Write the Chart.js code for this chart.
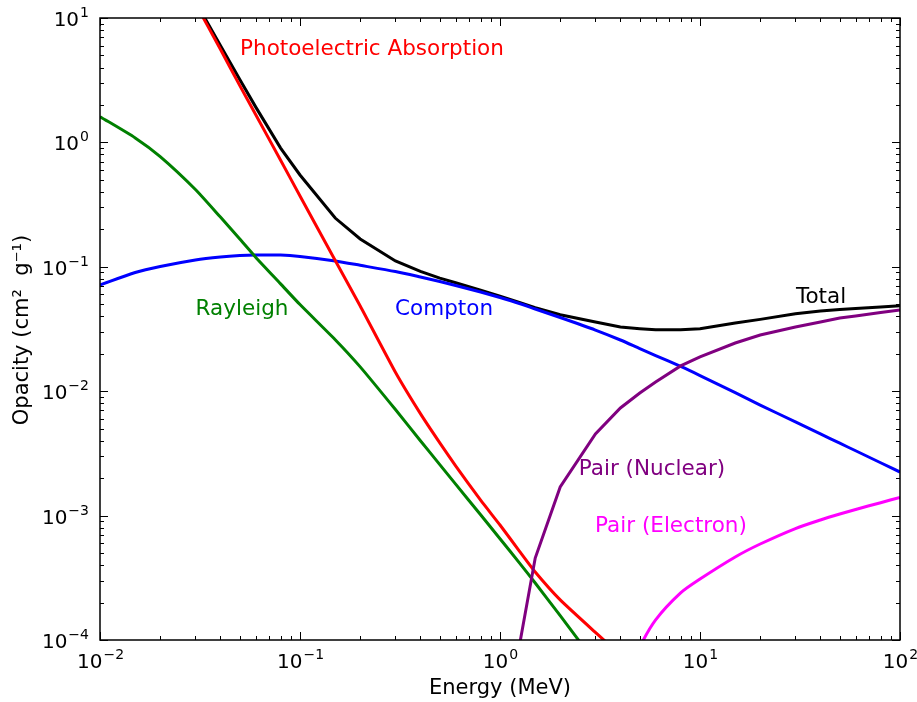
<!DOCTYPE html>
<html>
<head>
<meta charset="utf-8">
<script src="https://cdn.jsdelivr.net/npm/chart.js@4.4.1/dist/chart.umd.min.js"></script>
<style>
  html, body { margin: 0; padding: 0; background: #fff; }
  #wrap { width: 917px; height: 702px; }
</style>
</head>
<body>
<div id="wrap"><canvas id="myChart" width="917" height="702"></canvas></div>
<script>
// Photon energies (MeV)
const energy = [0.01, 0.015, 0.02, 0.03, 0.04, 0.05, 0.06, 0.08, 0.1, 0.15, 0.2, 0.3, 0.4, 0.5, 0.6, 0.8,
                1, 1.25, 1.5, 2, 3, 4, 5, 6, 8, 10, 15, 20, 30, 40, 50, 60, 80, 100];

// Opacities (cm^2 g^-1); null = not plotted
const photoelectric = [327, 100, 42.8, 13.1, 5.6, 2.86, 1.676, 0.718, 0.371, 0.1125, 0.0484, 0.0142, 0.0066,
                       0.00384, 0.00251, 0.00133, 8.4e-4, 5.19e-4, 3.52e-4, 2.1e-4, 1.15e-4, 7.6e-5,
                       null, null, null, null, null, null, null, null, null, null, null, null];
const rayleigh = [1.61, 1.087, 0.769, 0.4185, 0.251, 0.1672, 0.1195, 0.0729, 0.0497, 0.02595, 0.01569, 0.00712,
                  0.0040, 0.00257, 0.00179, 0.001015, 6.52e-4, 4.17e-4, 2.87e-4, 1.57e-4, 6.57e-5,
                  null, null, null, null, null, null, null, null, null, null, null, null, null];
const compton = [0.0714, 0.090, 0.1006, 0.1135, 0.120, 0.1233, 0.1245, 0.1243, 0.121, 0.1113, 0.1028, 0.0916,
                 0.0828, 0.0762, 0.0708, 0.0627, 0.0566, 0.0507, 0.0458, 0.0391, 0.031, 0.0258, 0.0220, 0.01936,
                 0.0158, 0.01336, 0.00975, 0.00774, 0.00566, 0.00454, 0.00382, 0.00332, 0.00266, 0.00224];
const pairNuclear = [null, null, null, null, null, null, null, null, null, null, null, null, null, null, null, null, null,
                     9e-5, 4.56e-4, 0.0017, 0.00453, 0.00733, 0.00968, 0.01186, 0.01596, 0.01884, 0.0244, 0.0283,
                     0.0328, 0.036, 0.0387, 0.0402, 0.043, 0.045];
const pairElectron = [null, null, null, null, null, null, null, null, null, null, null, null, null, null, null, null,
                      null, null, null, null, null,
                      4e-5, 8.8e-5, 1.45e-4, 2.39e-4, 3.09e-4, 4.65e-4, 5.91e-4, 7.87e-4, 9.22e-4, 1.03e-3, 1.12e-3,
                      1.27e-3, 1.40e-3];
const total = [329, 101, 43.7, 13.6, 6.0, 3.2, 1.93, 0.90, 0.547, 0.2466, 0.1673, 0.1114, 0.092, 0.081, 0.0745,
               0.065, 0.058, 0.0518, 0.047, 0.0412, 0.036, 0.0328, 0.0318, 0.0312, 0.0312, 0.0318, 0.0353, 0.0378,
               0.042, 0.0442, 0.0454, 0.0463, 0.0475, 0.0486];

// Axis decades
const xTicks = [0.01, 0.1, 1, 10, 100];
const yTicks = [1e-4, 1e-3, 1e-2, 1e-1, 1, 10];

// In-plot labels: text and where they sit (energy, opacity)
const seriesLabels = [
    { text: 'Photoelectric Absorption', color: '#ff0000', x: 0.229, y: 5.63 },
    { text: 'Rayleigh', color: '#008000', x: 0.0513, y: 0.0458 },
    { text: 'Compton', color: '#0000ff', x: 0.525, y: 0.0458 },
    { text: 'Total', color: '#000000', x: 40.3, y: 0.0572 },
    { text: 'Pair (Nuclear)', color: '#800080', x: 5.75, y: 0.00237 },
    { text: 'Pair (Electron)', color: '#ff00ff', x: 7.16, y: 8.24e-4 }
];

function points(values) {
    const out = [];
    energy.forEach((e, i) => {
        if (values[i] !== null) out.push({ x: e, y: values[i] });
    });
    return out;
}

function line(label, values, color, tension) {
    return {
        label: label,
        data: points(values),
        borderColor: color,
        backgroundColor: color,
        borderWidth: 3,
        pointRadius: 0,
        tension: tension,
        fill: false
    };
}

const FONT = '"DejaVu Sans", sans-serif';

// draws 10^n with a raised exponent
function drawPower(ctx, value, x, y, align) {
    const n = Math.round(Math.log10(value));
    const exp = (n < 0 ? '\u2212' : '') + Math.abs(n);
    ctx.font = '20px ' + FONT;
    const wb = ctx.measureText('10').width;
    ctx.font = '14px ' + FONT;
    const we = ctx.measureText(exp).width;
    const w = wb + we;
    let x0 = align === 'right' ? x - w : x - w / 2;
    ctx.textAlign = 'left';
    ctx.textBaseline = 'alphabetic';
    ctx.fillStyle = '#000';
    ctx.font = '20px ' + FONT;
    ctx.fillText('10', x0, y);
    ctx.font = '14px ' + FONT;
    ctx.fillText(exp, x0 + wb + 1, y - 9);
}

const framePlugin = {
    id: 'frame',
    afterDatasetsDraw(chart) {
        const ctx = chart.ctx;
        const a = chart.chartArea;
        const xs = chart.scales.x, ys = chart.scales.y;
        ctx.save();

        // minor + major ticks, inward on all four sides
        ctx.strokeStyle = '#000';
        ctx.lineWidth = 1;
        ctx.beginPath();
        for (let i = 0; i < xTicks.length; i++) {
            const px = Math.round(xs.getPixelForValue(xTicks[i])) + 0.5;
            ctx.moveTo(px, a.bottom); ctx.lineTo(px, a.bottom - 8);
            ctx.moveTo(px, a.top); ctx.lineTo(px, a.top + 8);
            if (i < xTicks.length - 1) {
                for (let m = 2; m <= 9; m++) {
                    const p = Math.round(xs.getPixelForValue(xTicks[i] * m)) + 0.5;
                    ctx.moveTo(p, a.bottom); ctx.lineTo(p, a.bottom - 4);
                    ctx.moveTo(p, a.top); ctx.lineTo(p, a.top + 4);
                }
            }
        }
        for (let i = 0; i < yTicks.length; i++) {
            const py = Math.round(ys.getPixelForValue(yTicks[i])) + 0.5;
            ctx.moveTo(a.left, py); ctx.lineTo(a.left + 8, py);
            ctx.moveTo(a.right, py); ctx.lineTo(a.right - 8, py);
            if (i < yTicks.length - 1) {
                for (let m = 2; m <= 9; m++) {
                    const p = Math.round(ys.getPixelForValue(yTicks[i] * m)) + 0.5;
                    ctx.moveTo(a.left, p); ctx.lineTo(a.left + 4, p);
                    ctx.moveTo(a.right, p); ctx.lineTo(a.right - 4, p);
                }
            }
        }
        ctx.stroke();

        // frame
        ctx.lineWidth = 1.5;
        ctx.strokeRect(a.left, a.top, a.right - a.left, a.bottom - a.top);

        // tick labels
        xTicks.forEach(v => drawPower(ctx, v, xs.getPixelForValue(v), a.bottom + 28, 'center'));
        yTicks.forEach(v => drawPower(ctx, v, a.left - 12, ys.getPixelForValue(v) + 8, 'right'));

        // axis titles
        ctx.fillStyle = '#000';
        ctx.font = '21px ' + FONT;
        ctx.textAlign = 'center';
        ctx.textBaseline = 'middle';
        ctx.fillText('Energy (MeV)', (a.left + a.right) / 2, a.bottom + 49);
        ctx.save();
        ctx.translate(23, (a.top + a.bottom) / 2 + 1);
        ctx.rotate(-Math.PI / 2);
        ctx.fillText('Opacity (cm\u00b2  g\u207b\u00b9)', 0, 0);
        ctx.restore();

        // series labels
        ctx.font = '21.5px ' + FONT;
        seriesLabels.forEach(l => {
            ctx.fillStyle = l.color;
            ctx.fillText(l.text, xs.getPixelForValue(l.x), ys.getPixelForValue(l.y));
        });
        ctx.restore();
    }
};

const ctx = document.getElementById('myChart').getContext('2d');
new Chart(ctx, {
    type: 'line',
    data: {
        // first dataset is drawn on top
        datasets: [
            line('Pair (Electron)', pairElectron, '#ff00ff', 0.25),
            line('Pair (Nuclear)', pairNuclear, '#800080', 0),
            line('Rayleigh', rayleigh, '#008000', 0.2),
            line('Photoelectric Absorption', photoelectric, '#ff0000', 0.15),
            line('Compton', compton, '#0000ff', 0.25),
            line('Total', total, '#000000', 0)
        ]
    },
    options: {
        responsive: false,
        animation: false,
        devicePixelRatio: 1,
        layout: { padding: { left: 100, right: 17, top: 18, bottom: 62 } },
        plugins: {
            legend: { display: false },
            tooltip: { enabled: false }
        },
        scales: {
            x: { type: 'logarithmic', min: 0.01, max: 100, display: false },
            y: { type: 'logarithmic', min: 1e-4, max: 10, display: false }
        }
    },
    plugins: [framePlugin]
});
</script>
</body>
</html>
